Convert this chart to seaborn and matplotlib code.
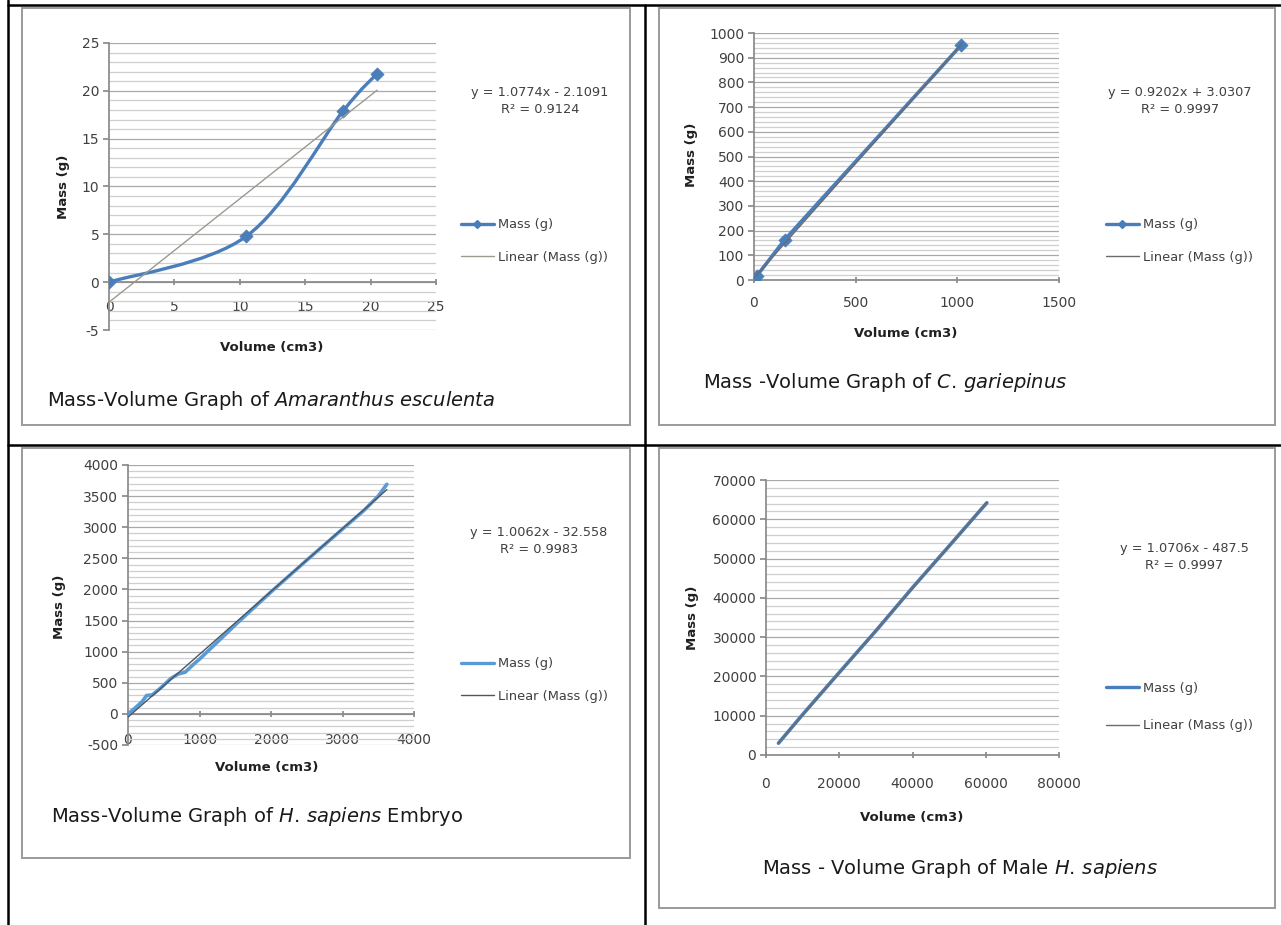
import matplotlib
matplotlib.use("Agg")
import matplotlib.pyplot as plt
from matplotlib.path import Path
from matplotlib.patches import PathPatch, Rectangle
from matplotlib.lines import Line2D
from matplotlib.ticker import MultipleLocator
import seaborn as sns

sns.set_theme(style="white")
plt.rcParams["font.family"] = ["DejaVu Sans"]
plt.rcParams["mathtext.fontset"] = "dejavusans"
plt.rcParams["axes.unicode_minus"] = False

# Amaranthus esculenta
amaranthus_vol = [0, 10.5, 17.9, 20.5]
amaranthus_mass = [0, 4.8, 17.9, 21.8]
# C. gariepinus
catfish_vol = [0, 15, 150, 1020]
catfish_mass = [0, 18, 162, 952]
# H. sapiens embryo
embryo_vol = [0, 100, 200, 260, 340, 450, 600, 700, 800, 900, 1000, 1200,
              1500, 2000, 2500, 3000, 3300, 3500, 3620]
embryo_mass = [0, 95, 200, 295, 305, 410, 570, 640, 670, 780, 880, 1100,
               1430, 1960, 2470, 2970, 3270, 3500, 3690]
# male H. sapiens
male_vol = [3400, 10000, 20000, 30000, 40000, 50000, 60300]
male_mass = [3000, 10300, 21000, 31600, 42600, 53200, 64200]

equations = ["y = 1.0774x - 2.1091\nR² = 0.9124",
             "y = 0.9202x + 3.0307\nR² = 0.9997",
             "y = 1.0062x - 32.558\nR² = 0.9983",
             "y = 1.0706x - 487.5\nR² = 0.9997"]
titles = ["Mass-Volume Graph of $\\mathit{Amaranthus\\ esculenta}$",
          "Mass -Volume Graph of $\\mathit{C{.}\\,gariepinus}$",
          "Mass-Volume Graph of $\\mathit{H{.}\\,sapiens}$ Embryo",
          "Mass - Volume Graph of Male $\\mathit{H{.}\\,sapiens}$"]

W, H = 1281, 925
BLUE = "#4A7EBB"
GRID_MAJ = "#a8a8a8"
GRID_MIN = "#cfcfcf"
AXCOL = "#8a8a8a"
TXT = "#404040"

fig = plt.figure(figsize=(W / 100, H / 100), dpi=100)
fig.patch.set_facecolor("white")


def fxy(x, y):
    return (x / W, 1 - y / H)


def rect(x0, y0, x1, y1):
    return [x0 / W, 1 - y1 / H, (x1 - x0) / W, (y1 - y0) / H]


def smooth_path(xs, ys):
    # Excel-style smoothed line: cubic bezier through the points
    pts = list(zip(xs, ys))
    n = len(pts)
    verts = [pts[0]]
    codes = [Path.MOVETO]
    for i in range(n - 1):
        p0 = pts[i - 1] if i > 0 else pts[i]
        p1, p2 = pts[i], pts[i + 1]
        p3 = pts[i + 2] if i + 2 < n else pts[i + 1]
        c1 = (p1[0] + (p2[0] - p0[0]) / 6, p1[1] + (p2[1] - p0[1]) / 6)
        c2 = (p2[0] - (p3[0] - p1[0]) / 6, p2[1] - (p3[1] - p1[1]) / 6)
        verts += [c1, c2, p2]
        codes += [Path.CURVE4] * 3
    return Path(verts, codes)


def frame(x0, y0, x1, y1):
    fig.add_artist(Rectangle(fxy(x0, y1), (x1 - x0) / W, (y1 - y0) / H,
                             transform=fig.transFigure, facecolor="white",
                             edgecolor="#9a9a9a", lw=1.4, zorder=0))


def panel(box, xs, ys, xlim, xstep, ylim, ystep, yminor, series, trend_col,
          markers, smooth, eq, eq_xy, title, title_xy, ylab_xy, xlab_xy,
          leg_xy, leg_space, xpad):
    ax = fig.add_axes(rect(*box))
    ax.set_facecolor("none")
    if smooth:
        ax.add_patch(PathPatch(smooth_path(xs, ys), facecolor="none",
                               edgecolor=series, lw=2.4, zorder=3))
    else:
        sns.lineplot(x=xs, y=ys, ax=ax, color=series, lw=2.6, estimator=None,
                     sort=False, zorder=3)
    if markers:
        sns.scatterplot(x=xs, y=ys, ax=ax, marker="D", s=45, color=series,
                        edgecolor=series, zorder=4)
    sns.regplot(x=xs, y=ys, ax=ax, scatter=False, ci=None, truncate=True,
                line_kws=dict(color=trend_col, lw=1.0, zorder=5))

    ax.set_xlim(*xlim)
    ax.set_ylim(*ylim)
    ax.xaxis.set_major_locator(MultipleLocator(xstep))
    ax.yaxis.set_major_locator(MultipleLocator(ystep))
    ax.yaxis.set_minor_locator(MultipleLocator(yminor))
    ax.grid(which="major", axis="y", color=GRID_MAJ, lw=0.9, zorder=0)
    ax.grid(which="minor", axis="y", color=GRID_MIN, lw=0.9, zorder=0)
    ax.grid(which="major", axis="x", visible=False)
    ax.set_axisbelow(True)
    for s in ["top", "right"]:
        ax.spines[s].set_visible(False)
    ax.spines["left"].set_color(AXCOL)
    ax.spines["bottom"].set_color(AXCOL)
    ax.spines["bottom"].set_position(("data", 0))
    ax.tick_params(axis="y", which="major", direction="out", length=4,
                   color=AXCOL, labelsize=10, labelcolor=TXT, pad=3, left=True)
    ax.tick_params(axis="y", which="minor", left=False)
    ax.tick_params(axis="x", direction="inout", length=5, color=AXCOL,
                   labelsize=10, labelcolor=TXT, pad=xpad, bottom=True)

    ax.set_ylabel("Mass (g)", fontsize=9.5, fontweight="bold", color="#202020")
    ax.yaxis.set_label_coords(*fxy(*ylab_xy), transform=fig.transFigure)
    ax.set_xlabel("Volume (cm3)", fontsize=9.5, fontweight="bold",
                  color="#202020")
    ax.xaxis.set_label_coords(*fxy(*xlab_xy), transform=fig.transFigure)
    for lab in [ax.yaxis.label, ax.xaxis.label]:
        lab.set_va("center")
        lab.set_ha("center")

    fig.text(*fxy(*eq_xy), eq, ha="center", va="center", fontsize=9.3,
             color=TXT, linespacing=1.35)
    fig.text(*fxy(*title_xy), title, ha="left", va="center", fontsize=14,
             color="#1a1a1a")

    h_series = Line2D([], [], color=series, lw=2.4,
                      marker="D" if markers else None, markersize=4.5)
    h_trend = Line2D([], [], color=trend_col, lw=1.0)
    ax.legend([h_series, h_trend], ["Mass (g)", "Linear (Mass (g))"],
              loc="center left", bbox_to_anchor=fxy(*leg_xy),
              bbox_transform=fig.transFigure, frameon=False, fontsize=9.4,
              handlelength=2.5, handletextpad=0.3, borderpad=0,
              borderaxespad=0, labelspacing=leg_space, labelcolor=TXT)
    return ax


# table rules
for xs_, ys_ in [([8, 1281], [5, 5]), ([8, 1281], [445, 445]),
                 ([8, 8], [0, 925]), ([645, 645], [5, 925])]:
    fig.add_artist(Line2D([x / W for x in xs_], [1 - y / H for y in ys_],
                          transform=fig.transFigure, color="black", lw=1.8))

frame(22, 8, 630, 425)
frame(659, 8, 1275, 425)
frame(22, 448, 630, 858)
frame(659, 448, 1275, 908)

panel((109, 43, 436, 330), amaranthus_vol, amaranthus_mass, (0, 25), 5,
      (-5, 25), 5, 1, BLUE, "#9a9a90", True, True, equations[0], (540, 101),
      titles[0], (47, 400), (64, 187), (272, 347), (461, 241), 1.5, 10)

panel((754, 33, 1059, 280), catfish_vol, catfish_mass, (0, 1500), 500,
      (0, 1000), 100, 20, BLUE, "#6b6b6b", True, False, equations[1],
      (1180, 101), titles[1], (703, 383), (691, 155), (906, 333),
      (1106, 241), 1.5, 9)

panel((128, 465, 414, 745), embryo_vol, embryo_mass, (0, 4000), 1000,
      (-500, 4000), 500, 100, "#5B9BD5", "#4d5660", False, False,
      equations[2], (539, 541), titles[2], (51, 817), (60, 607), (267, 768),
      (461, 680), 1.5, 11)

panel((766, 480, 1059, 755), male_vol, male_mass, (0, 80000), 20000,
      (0, 70000), 10000, 2000, BLUE, "#6b6b6b", False, False, equations[3],
      (1184, 557), titles[3], (762, 868), (692, 618), (912, 817),
      (1106, 707), 1.9, 13)

fig.savefig("out.png", dpi=100, facecolor="white")
